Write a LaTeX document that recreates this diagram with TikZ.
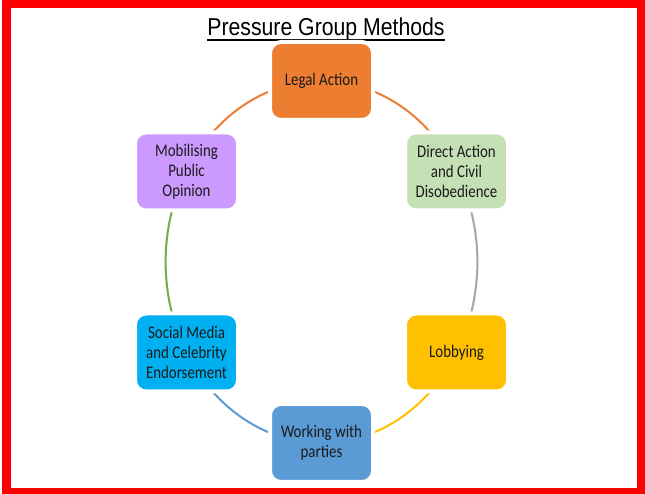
\documentclass[tikz,border=0pt]{standalone}
\usepackage{fontspec}
\newfontfamily\titlefont{Liberation Sans}[FakeStretch=0.87]
\newfontfamily\boxfont{Carlito}[FakeStretch=0.84]
\pgfdeclarelayer{bg}\pgfsetlayers{bg,main}
\definecolor{cOrange}{HTML}{ED7D31}
\definecolor{cGreenL}{HTML}{C5E0B4}
\definecolor{cYellow}{HTML}{FFC000}
\definecolor{cBlue}{HTML}{5B9BD5}
\definecolor{cCyan}{HTML}{00B0F0}
\definecolor{cPurple}{HTML}{CC99FF}
\definecolor{cGrey}{HTML}{A5A5A5}
\definecolor{cGreen}{HTML}{70AD47}
\definecolor{cText}{HTML}{1A1A1A}
\begin{document}
\begin{tikzpicture}[x=1bp,y=1bp,
  box/.style={rounded corners=11bp, draw=white, line width=4bp,
    minimum width=103bp, minimum height=78bp, inner sep=0pt,
    align=center, text=cText, font=\boxfont\fontsize{17.8}{20}\selectfont},
  arcline/.style={line width=2bp},
  ell/.style={x radius=156bp, y radius=181bp}]
\useasboundingbox (0,0) rectangle (645,494);
\draw[red, line width=8bp] (6.5,1.5) rectangle (640.5,490);
\node[font=\titlefont\fontsize{24.5}{28}\selectfont, inner sep=0pt, anchor=base] (title) at (326,458) {Pressure Group Methods};
\draw[line width=2bp] ([yshift=-4bp]title.base west) -- ([yshift=-4bp]title.base east);

\node[box, fill=cOrange] (legal) at (321.5,413) {Legal Action};
\node[box, fill=cGreenL] (direct) at (456.5,322.5) {Direct Action\\and Civil\\Disobedience};
\node[box, fill=cYellow] (lobby) at (456.5,141.5) {Lobbying};
\node[box, fill=cBlue] (work) at (321.5,51) {Working with\\parties};
\node[box, fill=cCyan] (social) at (186.5,141.5) {Social Media\\and Celebrity\\Endorsement};
\node[box, fill=cPurple] (mobil) at (186.5,322.5) {Mobilising\\Public\\Opinion};

\begin{pgfonlayer}{bg}
\fill[white] (0,0) rectangle (645,494);
\draw[arcline, cOrange] (legal.center) arc[start angle=90, end angle=30, ell];
\draw[arcline, cGrey] (direct.center) arc[start angle=30, end angle=-30, ell];
\draw[arcline, cYellow] (lobby.center) arc[start angle=-30, end angle=-90, ell];
\draw[arcline, cBlue] (work.center) arc[start angle=270, end angle=210, ell];
\draw[arcline, cGreen] (social.center) arc[start angle=210, end angle=150, ell];
\draw[arcline, cOrange] (mobil.center) arc[start angle=150, end angle=90, ell];
\end{pgfonlayer}
\end{tikzpicture}
\end{document}
